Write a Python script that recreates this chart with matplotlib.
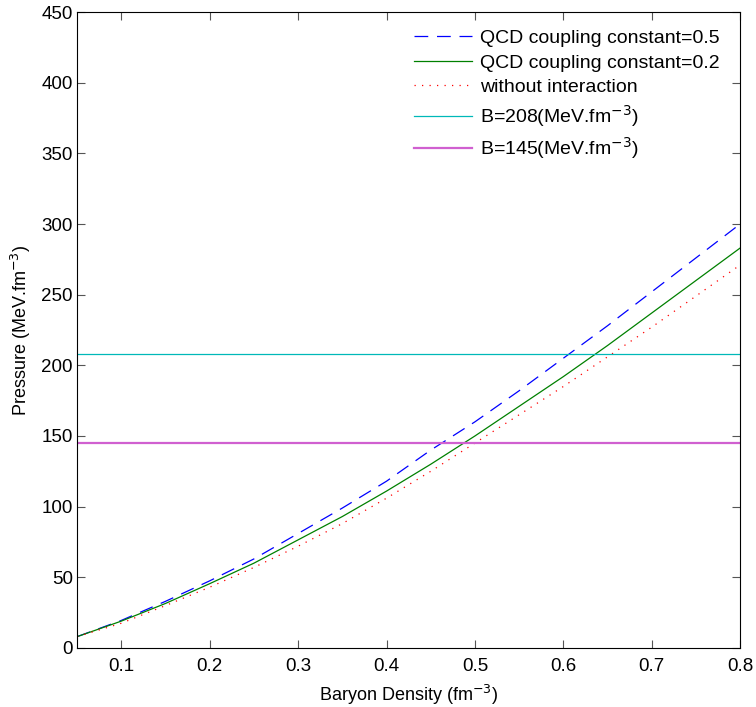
import matplotlib
matplotlib.use("Agg")
import matplotlib.pyplot as plt
import numpy as np

plt.rcParams['font.family'] = ['Liberation Sans', 'DejaVu Sans']

# Densidad barionica (fm^-3) y presiones
densidad = [0.05, 0.10, 0.15, 0.20, 0.25, 0.30, 0.35, 0.40,
            0.45, 0.50, 0.55, 0.60, 0.65, 0.70, 0.75, 0.80]
presion_05 = [8, 19.5, 33, 47.5, 63, 81, 99, 118,
              140, 160, 182, 205, 228, 252, 276, 300]
presion_02 = [8, 19, 31.5, 45.5, 60, 76.5, 93, 111,
              130, 150, 171, 192, 214, 237, 260, 283]
presion_libre = [8, 17.5, 30, 43, 57, 72, 88, 106,
                 125, 145, 165, 185, 206, 227, 249, 271]
B_alto = 208
B_bajo = 145

fig = plt.figure(figsize=(7.56, 7.07), dpi=100)
ax = fig.add_axes([0.102, 0.0835, 0.877, 0.8995])

ax.plot(densidad, presion_05, color="blue", linestyle=(0, (11, 7)), lw=0.9,
        label="QCD coupling constant=0.5")
ax.plot(densidad, presion_02, color=(0, 0.5, 0), lw=0.9,
        label="QCD coupling constant=0.2")
ax.plot(densidad, presion_libre, color="red", linestyle=(0, (1, 5)), lw=0.9,
        label="without interaction")
ax.axhline(B_alto, color=(0, 0.72, 0.72), lw=0.9,
           label="B=208(MeV.fm$^{-3}$)")
ax.axhline(B_bajo, color="#d060d0", lw=1.6,
           label="B=145(MeV.fm$^{-3}$)")

ax.set_xlim(0.05, 0.8)
ax.set_ylim(0, 450)
ax.set_xticks(np.arange(0.1, 0.81, 0.1))
ax.set_xticklabels(["0.1", "0.2", "0.3", "0.4", "0.5", "0.6", "0.7", "0.8"])
ax.set_yticks(np.arange(0, 451, 50))
ax.tick_params(direction="in", top=True, right=True, labelsize=13.5,
               length=6, color="#555555")
ax.tick_params(axis="x", pad=7)
ax.tick_params(axis="y", pad=3)
ax.set_xlabel("Baryon Density (fm$^{-3}$)", fontsize=13, labelpad=6)
ax.set_ylabel("Pressure (MeV.fm$^{-3}$)", fontsize=13, labelpad=6)

ax.legend(loc="upper right", frameon=False, fontsize=14, handlelength=3.0,
          borderaxespad=0.5, labelspacing=0.35, handletextpad=0.4,
          bbox_to_anchor=(0.995, 1.0))

fig.savefig("out.png", dpi=100)
